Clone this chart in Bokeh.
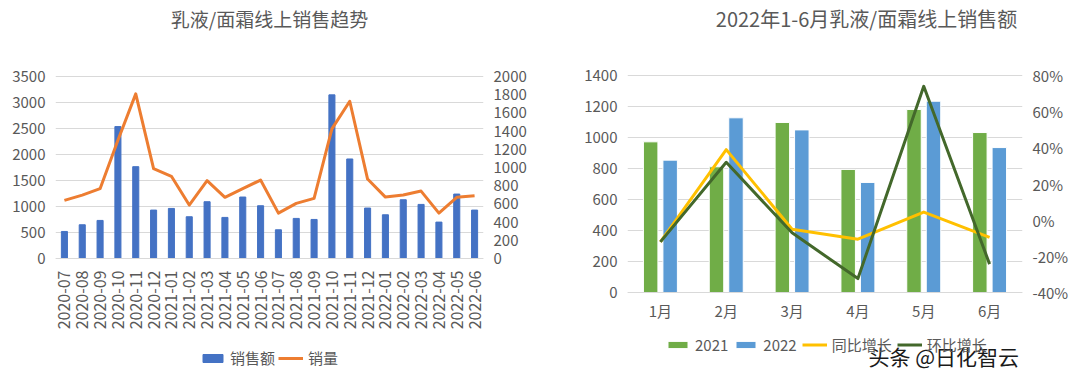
import math
from bokeh.plotting import figure
from bokeh.models import (Range1d, LinearAxis, FixedTicker, Legend, LegendItem,
                          Label, NumeralTickFormatter, ColumnDataSource)
from bokeh.layouts import row
from bokeh.transform import dodge
from bokeh.embed import file_html
from bokeh.resources import INLINE

# ---------------- data ----------------
months = ["2020-07", "2020-08", "2020-09", "2020-10", "2020-11", "2020-12",
          "2021-01", "2021-02", "2021-03", "2021-04", "2021-05", "2021-06",
          "2021-07", "2021-08", "2021-09", "2021-10", "2021-11", "2021-12",
          "2022-01", "2022-02", "2022-03", "2022-04", "2022-05", "2022-06"]
sales_amount = [520, 649, 732, 2537, 1766, 931, 963, 803, 1092, 790, 1182, 1015,
                552, 771, 751, 3147, 1914, 970, 841, 1130, 1040, 700, 1239, 931]
sales_volume = [639, 697, 767, 1300, 1809, 987, 903, 587, 855, 672, 767, 862,
                499, 606, 661, 1424, 1728, 873, 675, 697, 741, 499, 672, 690]

h1_months = ["1月", "2月", "3月", "4月", "5月", "6月"]
amount_2021 = [972, 811, 1097, 794, 1181, 1032]
amount_2022 = [854, 1127, 1049, 710, 1234, 935]
yoy_growth = [-0.12, 0.39, -0.05, -0.105, 0.045, -0.095]
mom_growth = [-0.12, 0.32, -0.07, -0.323, 0.74, -0.243]

left_ticks = [0, 500, 1000, 1500, 2000, 2500, 3000, 3500]
right_ticks = [0, 200, 400, 600, 800, 1000, 1200, 1400, 1600, 1800, 2000]
left2_ticks = [0, 200, 400, 600, 800, 1000, 1200, 1400]
pct_ticks = [-0.4, -0.2, 0.0, 0.2, 0.4, 0.6, 0.8]

FONT = "Noto Sans CJK SC"
TXT = "#595959"
GRID = "#D9D9D9"

# frame geometry (page pixels); frames span nearly the full height so that
# titles, legends and labels can live inside them
FIG_H = 380
F_TOP, F_BOT = 0, 375


def fit_range(v_lo, y_lo, v_hi, y_hi):
    """Range whose value v_lo sits at page-y y_lo and v_hi at page-y y_hi."""
    s = (y_lo - y_hi) / (v_hi - v_lo)
    return Range1d(v_lo - (F_BOT - y_lo) / s, v_hi + (y_hi - F_TOP) / s)


def style_axis(ax, size="15px", standoff=10):
    ax.axis_line_color = None
    ax.major_tick_line_color = None
    ax.minor_tick_line_color = None
    ax.major_tick_out = 0
    ax.major_tick_in = 0
    ax.major_label_text_font = FONT
    ax.major_label_text_font_size = size
    ax.major_label_text_color = TXT
    ax.major_label_standoff = standoff


def legend(items, loc, spacing, glyph_h):
    return Legend(items=items, location=loc, orientation="horizontal",
                  border_line_color=None, background_fill_alpha=0,
                  padding=0, margin=0, spacing=spacing, label_standoff=5,
                  glyph_width=25, glyph_height=glyph_h,
                  label_text_font=FONT, label_text_font_size="15px",
                  label_text_color=TXT)


def text_label(x, y, text, size, color=TXT, align="center"):
    return Label(x=x, y=y, x_units="screen", y_units="screen", text=text,
                 text_font=FONT, text_font_size=size, text_color=color,
                 text_align=align, text_baseline="middle")


# ---------------- left chart ----------------
L_LEFT, L_RIGHT = 55, 483
p1 = figure(x_range=months, y_range=fit_range(0, 258, 3500, 76),
            width=548, height=FIG_H, output_backend="svg", toolbar_location=None,
            min_border_left=L_LEFT, min_border_right=548 - L_RIGHT,
            min_border_top=F_TOP, min_border_bottom=FIG_H - F_BOT,
            outline_line_color=None)
p1.extra_y_ranges = {"vol": fit_range(0, 258, 2000, 76)}

p1.yaxis.ticker = FixedTicker(ticks=left_ticks)
style_axis(p1.yaxis[0])
p1.xaxis.fixed_location = 0
p1.xaxis.major_label_orientation = math.pi / 2
style_axis(p1.xaxis[0], "16px", 12)
p1.xaxis.axis_line_color = GRID
p1.xgrid.grid_line_color = None
p1.ygrid.grid_line_color = GRID

rax = LinearAxis(y_range_name="vol", ticker=FixedTicker(ticks=right_ticks))
style_axis(rax)
p1.add_layout(rax, "right")

bars1 = p1.vbar(x=months, top=sales_amount, width=0.34, color="#4472C4")
line1 = p1.line(x=months, y=sales_volume, y_range_name="vol", color="#ED7D31",
                line_width=3, line_join="round")

leg1 = legend([LegendItem(label="销售额", renderers=[bars1]),
               LegendItem(label="销量", renderers=[line1])],
              (200 - L_LEFT, F_BOT - 368), 3, 10)
p1.add_layout(leg1, "center")
p1.add_layout(text_label(269 - L_LEFT, F_BOT - 18, "乳液/面霜线上销售趋势", "19px"))

# ---------------- right chart ----------------
R_LEFT, R_RIGHT, R_X0 = 627, 1022, 548
p2 = figure(x_range=h1_months, y_range=fit_range(0, 292, 1400, 75),
            width=524, height=FIG_H, output_backend="svg", toolbar_location=None,
            min_border_left=R_LEFT - R_X0, min_border_right=R_X0 + 524 - R_RIGHT,
            min_border_top=F_TOP, min_border_bottom=FIG_H - F_BOT,
            outline_line_color=None)
p2.extra_y_ranges = {"pct": fit_range(-0.4, 292, 0.8, 75)}

p2.yaxis.ticker = FixedTicker(ticks=left2_ticks)
style_axis(p2.yaxis[0])
p2.xaxis.fixed_location = 0
style_axis(p2.xaxis[0], "15px", 7)
p2.xaxis.axis_line_color = GRID
p2.xgrid.grid_line_color = None
p2.ygrid.grid_line_color = GRID

rax2 = LinearAxis(y_range_name="pct", ticker=FixedTicker(ticks=pct_ticks),
                  formatter=NumeralTickFormatter(format="0%"))
style_axis(rax2)
p2.add_layout(rax2, "right")

cds = ColumnDataSource(dict(m=h1_months, a21=amount_2021, a22=amount_2022,
                            yoy=yoy_growth, mom=mom_growth))
b21 = p2.vbar(x=dodge("m", -0.148, range=p2.x_range), top="a21", width=0.22,
              source=cds, fill_color="#70AD47", line_color="white", line_width=1)
b22 = p2.vbar(x=dodge("m", 0.148, range=p2.x_range), top="a22", width=0.22,
              source=cds, fill_color="#5B9BD5", line_color="white", line_width=1)
l_yoy = p2.line(x="m", y="yoy", source=cds, y_range_name="pct", color="#FFC000",
                line_width=3, line_join="round")
l_mom = p2.line(x="m", y="mom", source=cds, y_range_name="pct", color="#43682B",
                line_width=3, line_join="round")

leg2 = legend([LegendItem(label="2021", renderers=[b21]),
               LegendItem(label="2022", renderers=[b22]),
               LegendItem(label="同比增长", renderers=[l_yoy]),
               LegendItem(label="环比增长", renderers=[l_mom])],
              (665 - R_LEFT, F_BOT - 355), 5, 9)
p2.add_layout(leg2, "center")
p2.add_layout(text_label(866 - R_LEFT, F_BOT - 18, "2022年1-6月乳液/面霜线上销售额", "20px"))
p2.add_layout(text_label(868 - R_LEFT, F_BOT - 355, "头条 @日化智云", "21px",
                         color="#1a1a1a", align="left"))

layout = row(p1, p2)
open("out.html", "w").write(file_html(layout, INLINE))
